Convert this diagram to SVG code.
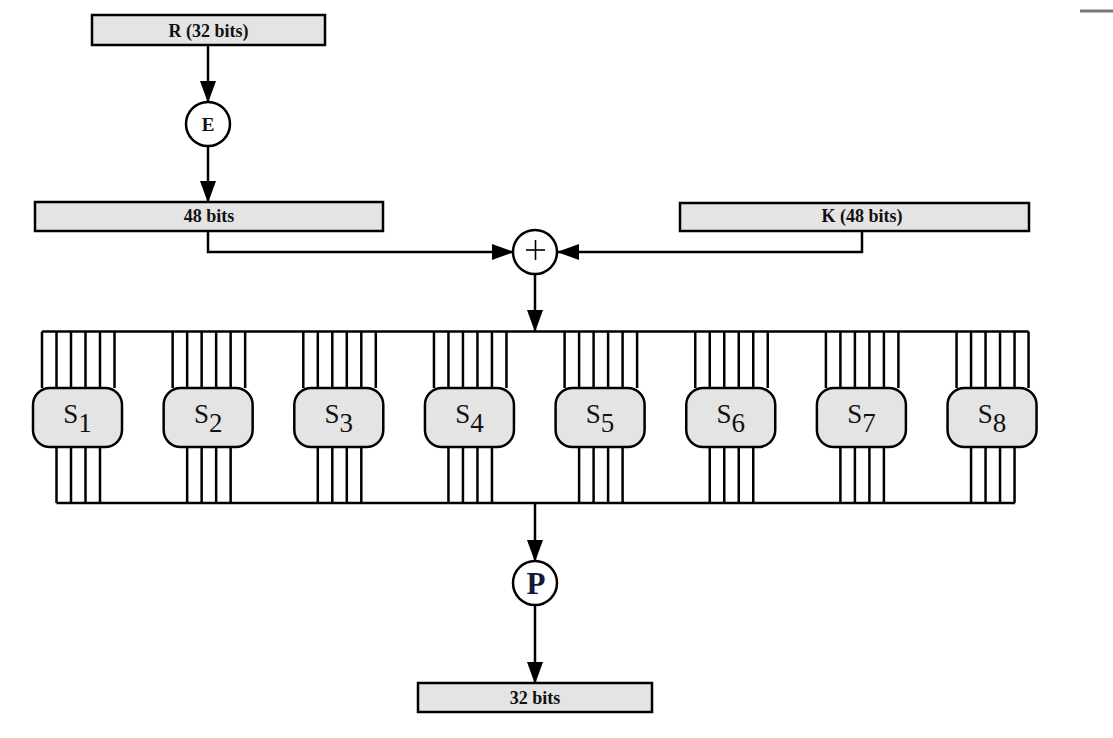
<svg xmlns="http://www.w3.org/2000/svg" width="1113" height="738" viewBox="0 0 1113 738">
  <style>
    .box { fill: #e4e4e4; stroke: #000; stroke-width: 2.5; }
    .sbox { fill: #e4e4e4; stroke: #000; stroke-width: 2.5; }
    .circ { fill: #fff; stroke: #000; stroke-width: 2.5; }
    .lbl { font-family: "Liberation Serif", "Times New Roman", serif; font-weight: bold; font-size: 18px; fill: #111; text-anchor: middle; }
    .slbl { font-family: "Liberation Serif", "Times New Roman", serif; font-size: 27px; fill: #111; text-anchor: middle; }
    .wire { fill: none; stroke: #000; stroke-width: 2.5; }
    .arr { fill: none; stroke: #000; stroke-width: 2.5; marker-end: url(#ah); }
  </style>
  <defs>
    <marker id="ah" markerUnits="userSpaceOnUse" markerWidth="22" markerHeight="18" refX="21" refY="8" orient="auto">
      <path d="M0,0 L22,8 L0,16 z" fill="#000"/>
    </marker>
  </defs>
  <rect width="1113" height="738" fill="#fff"/>
  <line x1="1080" y1="11" x2="1113" y2="11" stroke="#777" stroke-width="3"/>

  <g id="connectors">
    <line class="arr" x1="208" y1="45" x2="208" y2="102"/>
    <line class="arr" x1="208" y1="146" x2="208" y2="202"/>
    <polyline class="arr" points="208,231 208,252 513,252"/>
    <polyline class="arr" points="862,231 862,252 558,252"/>
    <line class="arr" x1="535" y1="274" x2="535" y2="331"/>
    <line class="arr" x1="535" y1="503" x2="535" y2="561"/>
    <line class="arr" x1="535" y1="605" x2="535" y2="683"/>
    <line class="wire" x1="42" y1="331.5" x2="1028.5" y2="331.5"/>
    <line class="wire" x1="56.5" y1="503" x2="1015" y2="503"/>
  </g>

  <g id="node-R">
    <rect class="box" x="92" y="15" width="233" height="30"/>
    <text class="lbl" x="208.5" y="37">R (32 bits)</text>
  </g>
  <g id="node-E">
    <circle class="circ" cx="208" cy="124" r="22"/>
    <text class="lbl" x="208" y="131" style="font-size:19px">E</text>
  </g>
  <g id="node-48">
    <rect class="box" x="35" y="202" width="348" height="29"/>
    <text class="lbl" x="209" y="222">48 bits</text>
  </g>
  <g id="node-K">
    <rect class="box" x="680" y="203" width="349" height="28"/>
    <text class="lbl" x="862" y="222">K (48 bits)</text>
  </g>
  <g id="node-xor">
    <circle class="circ" cx="535" cy="252" r="22"/>
    <line x1="526" y1="250" x2="545" y2="250" stroke="#000" stroke-width="1.6"/>
    <line x1="535.5" y1="240" x2="535.5" y2="260" stroke="#000" stroke-width="1.6"/>
  </g>

  <g id="sboxes">
    <g id="node-S1">
      <path class="wire" d="M42,331.5 V388 M56.5,331.5 V388 M71,331.5 V388 M85.5,331.5 V388 M100,331.5 V388 M114.5,331.5 V388 M56.5,447 V503 M71,447 V503 M85.5,447 V503 M100,447 V503"/>
      <rect class="sbox" x="33" y="388" width="89" height="59" rx="17"/>
      <text class="slbl" x="77.5" y="423">S<tspan dy="9">1</tspan></text>
    </g>
    <g id="node-S2" transform="translate(130.65,0)">
      <path class="wire" d="M42,331.5 V388 M56.5,331.5 V388 M71,331.5 V388 M85.5,331.5 V388 M100,331.5 V388 M114.5,331.5 V388 M56.5,447 V503 M71,447 V503 M85.5,447 V503 M100,447 V503"/>
      <rect class="sbox" x="33" y="388" width="89" height="59" rx="17"/>
      <text class="slbl" x="77.5" y="423">S<tspan dy="9">2</tspan></text>
    </g>
    <g id="node-S3" transform="translate(261.3,0)">
      <path class="wire" d="M42,331.5 V388 M56.5,331.5 V388 M71,331.5 V388 M85.5,331.5 V388 M100,331.5 V388 M114.5,331.5 V388 M56.5,447 V503 M71,447 V503 M85.5,447 V503 M100,447 V503"/>
      <rect class="sbox" x="33" y="388" width="89" height="59" rx="17"/>
      <text class="slbl" x="77.5" y="423">S<tspan dy="9">3</tspan></text>
    </g>
    <g id="node-S4" transform="translate(391.95,0)">
      <path class="wire" d="M42,331.5 V388 M56.5,331.5 V388 M71,331.5 V388 M85.5,331.5 V388 M100,331.5 V388 M114.5,331.5 V388 M56.5,447 V503 M71,447 V503 M85.5,447 V503 M100,447 V503"/>
      <rect class="sbox" x="33" y="388" width="89" height="59" rx="17"/>
      <text class="slbl" x="77.5" y="423">S<tspan dy="9">4</tspan></text>
    </g>
    <g id="node-S5" transform="translate(522.6,0)">
      <path class="wire" d="M42,331.5 V388 M56.5,331.5 V388 M71,331.5 V388 M85.5,331.5 V388 M100,331.5 V388 M114.5,331.5 V388 M56.5,447 V503 M71,447 V503 M85.5,447 V503 M100,447 V503"/>
      <rect class="sbox" x="33" y="388" width="89" height="59" rx="17"/>
      <text class="slbl" x="77.5" y="423">S<tspan dy="9">5</tspan></text>
    </g>
    <g id="node-S6" transform="translate(653.25,0)">
      <path class="wire" d="M42,331.5 V388 M56.5,331.5 V388 M71,331.5 V388 M85.5,331.5 V388 M100,331.5 V388 M114.5,331.5 V388 M56.5,447 V503 M71,447 V503 M85.5,447 V503 M100,447 V503"/>
      <rect class="sbox" x="33" y="388" width="89" height="59" rx="17"/>
      <text class="slbl" x="77.5" y="423">S<tspan dy="9">6</tspan></text>
    </g>
    <g id="node-S7" transform="translate(783.9,0)">
      <path class="wire" d="M42,331.5 V388 M56.5,331.5 V388 M71,331.5 V388 M85.5,331.5 V388 M100,331.5 V388 M114.5,331.5 V388 M56.5,447 V503 M71,447 V503 M85.5,447 V503 M100,447 V503"/>
      <rect class="sbox" x="33" y="388" width="89" height="59" rx="17"/>
      <text class="slbl" x="77.5" y="423">S<tspan dy="9">7</tspan></text>
    </g>
    <g id="node-S8" transform="translate(914.55,0)">
      <path class="wire" d="M42,331.5 V388 M56.5,331.5 V388 M71,331.5 V388 M85.5,331.5 V388 M100,331.5 V388 M114,331.5 V388 M56.5,447 V503 M71,447 V503 M85.5,447 V503 M100,447 V503"/>
      <rect class="sbox" x="33" y="388" width="89" height="59" rx="17"/>
      <text class="slbl" x="77.5" y="423">S<tspan dy="9">8</tspan></text>
    </g>
  </g>

  <g id="node-P">
    <circle class="circ" cx="535" cy="583" r="22"/>
    <text class="lbl" x="536" y="594" style="font-size:31px;fill:#141a3c">P</text>
  </g>
  <g id="node-32">
    <rect class="box" x="418" y="683" width="234" height="29"/>
    <text class="lbl" x="535" y="704">32 bits</text>
  </g>
</svg>
